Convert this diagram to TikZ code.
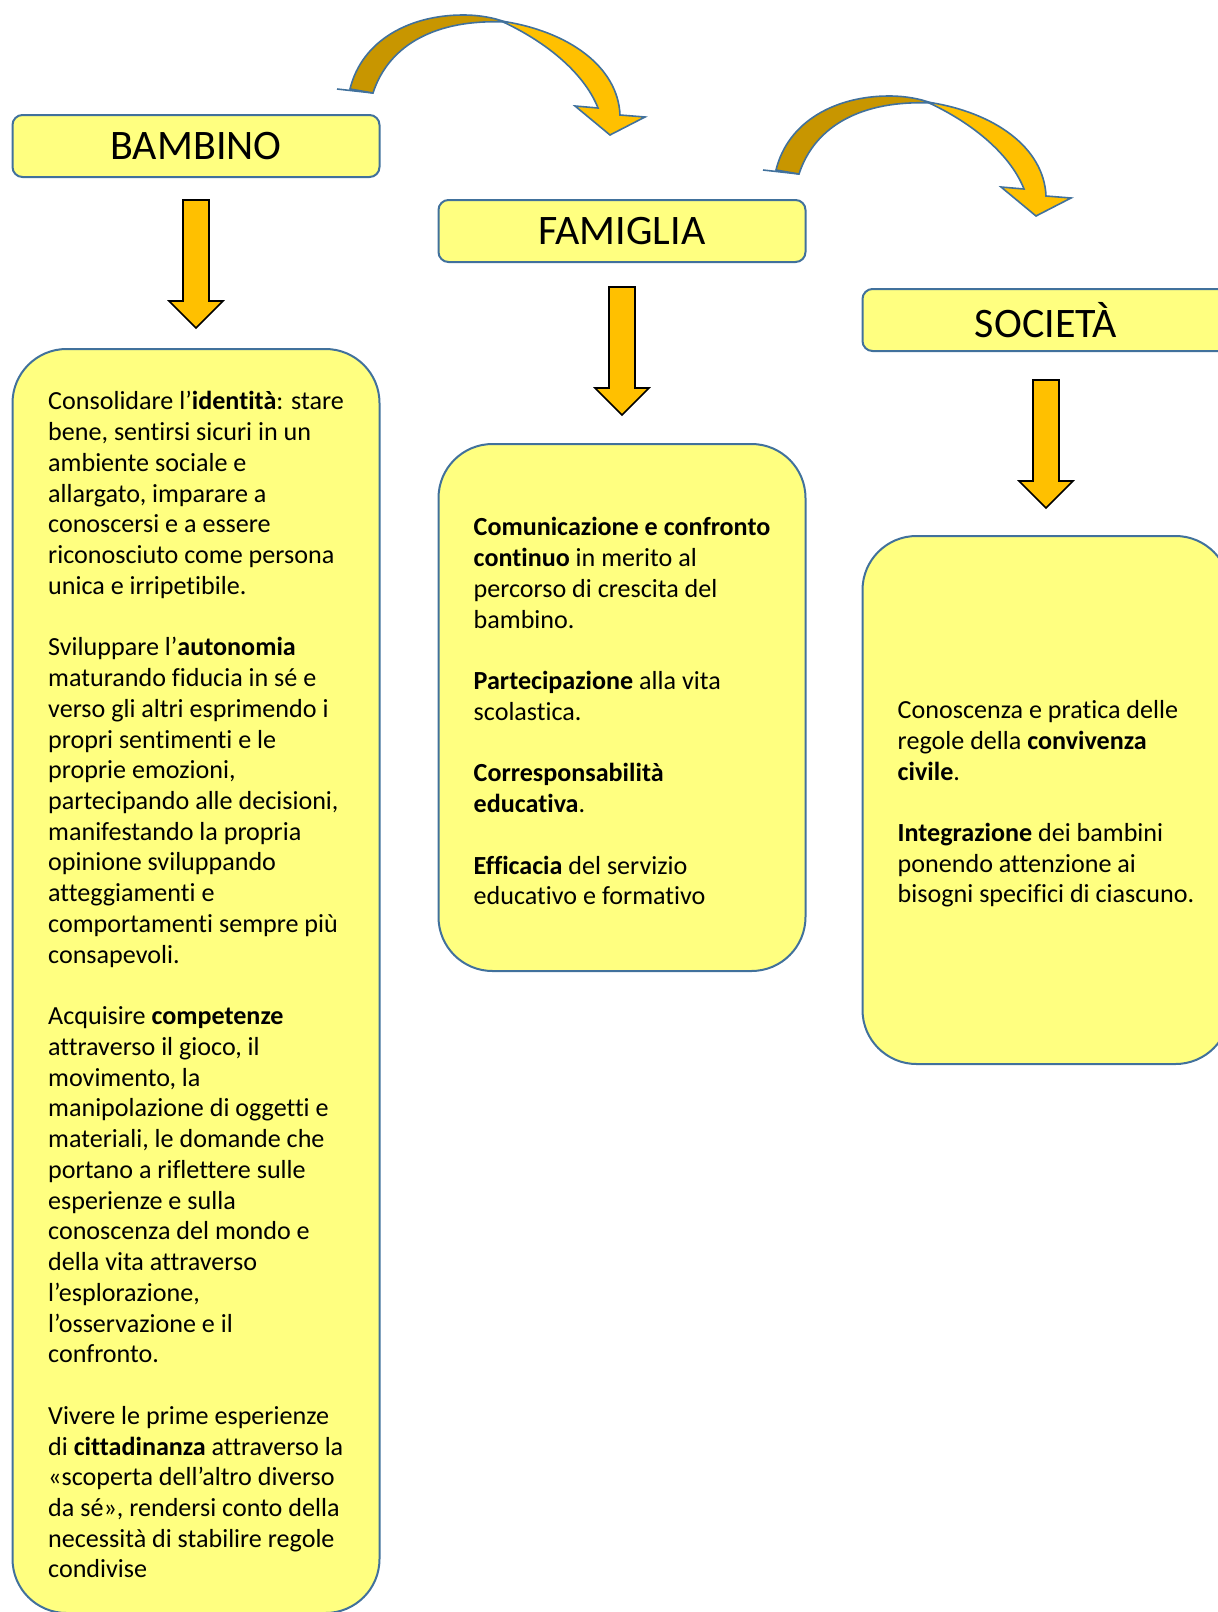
\documentclass[tikz,border=0pt]{standalone}
\usepackage{fontspec}
\setmainfont[Ligatures=CommonOff,RawFeature={-calt}]{Carlito}
\usetikzlibrary{positioning}
\usetikzlibrary{calc}
\definecolor{boxyellow}{HTML}{FFFF80}
\definecolor{edgeblue}{HTML}{41719C}
\definecolor{arrowgold}{HTML}{FFC000}
\definecolor{arrowdark}{HTML}{C89600}
\newcommand{\topgap}{\rule{0pt}{13pt}}
\newcommand{\bendarrow}[1]{%
  \begin{scope}[shift={#1}]
    \draw[bendback] (0,0) -- (36,4);
    \draw[bendback] (13,0) .. controls (25,-49) and (73,-74) .. (126,-74)
        .. controls (143,-74) and (158,-71) .. (168,-67)
        .. controls (100,-70) and (52,-45) .. (36,4) -- cycle;
    \draw[bendfront] (164,-68) .. controls (232,-58) and (281,-22) .. (283,26)
        -- (308,28) -- (273,46) -- (238,17) -- (261,19)
        .. controls (248,-14) and (212,-46) .. (164,-68) -- cycle;
  \end{scope}}

\begin{document}
\begin{tikzpicture}[x=0.5pt,y=-0.5pt]
\tikzstyle{head}=[draw=edgeblue,line width=1pt,fill=boxyellow,rounded corners=5pt,minimum width=183.5pt,minimum height=31pt,font=\fontsize{21}{25}\selectfont]
\tikzstyle{card}=[draw=edgeblue,line width=1pt,fill=boxyellow,rounded corners=27pt,minimum width=183.5pt,align=left,font=\fontsize{13.05}{15.37}\selectfont]
\tikzstyle{down}=[draw=black,line width=0.8pt,fill=arrowgold,line join=miter]
\tikzstyle{bendback}=[draw=edgeblue,line width=0.8pt,fill=arrowdark]
\tikzstyle{bendfront}=[draw=edgeblue,line width=0.8pt,fill=arrowgold]
\clip (0,0) rectangle (1218,1612);

\node[head] (bambino) at (196,146) {BAMBINO};
\node[head] (famiglia) at (622,231) {FAMIGLIA};
\node[head] (societa) at (1046,320) {SOCIETÀ};

\node[card,minimum height=632pt] (bambinobox) at (196,981) {
  \topgap Consolidare l’\textbf{identità}: stare\\
  bene, sentirsi sicuri in un\\
  ambiente sociale e\\
  allargato, imparare a\\
  conoscersi e a essere\\
  riconosciuto come persona\\
  unica e irripetibile.\\[\baselineskip]
  Sviluppare l’\textbf{autonomia}\\
  maturando fiducia in sé e\\
  verso gli altri esprimendo i\\
  propri sentimenti e le\\
  proprie emozioni,\\
  partecipando alle decisioni,\\
  manifestando la propria\\
  opinione sviluppando\\
  atteggiamenti e\\
  comportamenti sempre più\\
  consapevoli.\\[\baselineskip]
  Acquisire \textbf{competenze}\\
  attraverso il gioco, il\\
  movimento, la\\
  manipolazione di oggetti e\\
  materiali, le domande che\\
  portano a riflettere sulle\\
  esperienze e sulla\\
  conoscenza del mondo e\\
  della vita attraverso\\
  l’esplorazione,\\
  l’osservazione e il\\
  confronto.\\[\baselineskip]
  Vivere le prime esperienze\\
  di \textbf{cittadinanza} attraverso la\\
  «scoperta dell’altro diverso\\
  da sé», rendersi conto della\\
  necessità di stabilire regole\\
  condivise};

\node[card,minimum height=263.5pt] (famigliabox) at (622,707.5) {
  \topgap\textbf{Comunicazione e confronto}\\
  \textbf{continuo} in merito al\\
  percorso di crescita del\\
  bambino.\\[\baselineskip]
  \textbf{Partecipazione} alla vita\\
  scolastica.\\[\baselineskip]
  \textbf{Corresponsabilità}\\
  \textbf{educativa}.\\[\baselineskip]
  \textbf{Efficacia} del servizio\\
  educativo e formativo};

\node[card,minimum height=264pt] (societabox) at (1046,800) {
  \topgap Conoscenza e pratica delle\\
  regole della \textbf{convivenza}\\
  \textbf{civile}.\\[\baselineskip]
  \textbf{Integrazione} dei bambini\\
  ponendo attenzione ai\\
  bisogni specifici di ciascuno.};

% block arrows down to the boxes
\foreach \a/\g in {bambino/22, famiglia/24, societa/28}
  \draw[down] ($(\a.south)+(-13,\g)$) -- ++(0,101) -- ++(-14,0) -- ++(27,27)
    -- ++(27,-27) -- ++(-14,0) -- ++(0,-101) -- cycle;

% bent arrows between the steps
\bendarrow{(337,89)}
\bendarrow{(763,170)}
\end{tikzpicture}
\end{document}
